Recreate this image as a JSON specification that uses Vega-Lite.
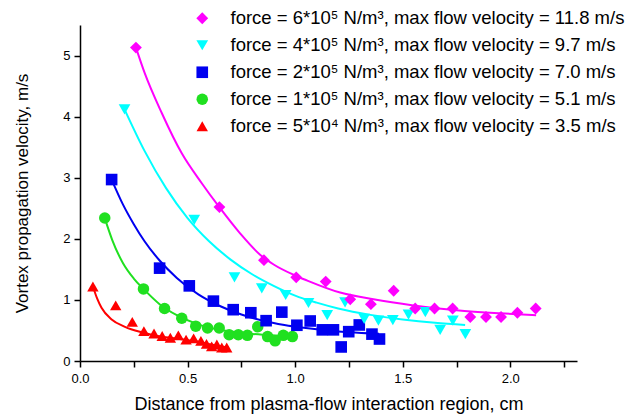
{
  "$schema": "https://vega.github.io/schema/vega-lite/v6.json",
  "width": 497,
  "height": 336,
  "autosize": {"type": "none"},
  "padding": {"left": 80, "top": 25, "right": 62, "bottom": 56},
  "background": "white",
  "config": {
    "view": {"stroke": null},
    "font": "Liberation Sans",
    "axis": {
      "grid": false,
      "domainColor": "black",
      "domainWidth": 1.5,
      "tickColor": "black",
      "tickWidth": 1.5,
      "tickSize": 6,
      "labelColor": "black",
      "labelFont": "Liberation Sans",
      "labelFontSize": 13,
      "labelOverlap": false,
      "labelFlush": false,
      "titleColor": "black",
      "titleFont": "Liberation Sans",
      "titleFontWeight": "normal",
      "titleFontSize": 18
    }
  },
  "datasets": {
    "fit": [
      {"g": "a", "x": 0.26, "y": 5.13}, {"g": "a", "x": 0.30, "y": 4.72}, {"g": "a", "x": 0.38, "y": 4.06},
      {"g": "a", "x": 0.473, "y": 3.40}, {"g": "a", "x": 0.566, "y": 2.91}, {"g": "a", "x": 0.645, "y": 2.53},
      {"g": "a", "x": 0.744, "y": 2.09}, {"g": "a", "x": 0.837, "y": 1.74}, {"g": "a", "x": 0.90, "y": 1.58},
      {"g": "a", "x": 1.00, "y": 1.40}, {"g": "a", "x": 1.054, "y": 1.32}, {"g": "a", "x": 1.209, "y": 1.12},
      {"g": "a", "x": 1.364, "y": 1.01}, {"g": "a", "x": 1.55, "y": 0.91}, {"g": "a", "x": 1.75, "y": 0.83},
      {"g": "a", "x": 1.953, "y": 0.78}, {"g": "a", "x": 2.12, "y": 0.75},
      {"g": "b", "x": 0.207, "y": 4.12}, {"g": "b", "x": 0.30, "y": 3.44}, {"g": "b", "x": 0.40, "y": 2.83},
      {"g": "b", "x": 0.50, "y": 2.34}, {"g": "b", "x": 0.60, "y": 1.96}, {"g": "b", "x": 0.70, "y": 1.66},
      {"g": "b", "x": 0.80, "y": 1.42}, {"g": "b", "x": 0.90, "y": 1.23}, {"g": "b", "x": 1.00, "y": 1.07},
      {"g": "b", "x": 1.10, "y": 0.955}, {"g": "b", "x": 1.20, "y": 0.86}, {"g": "b", "x": 1.35, "y": 0.755},
      {"g": "b", "x": 1.50, "y": 0.68}, {"g": "b", "x": 1.65, "y": 0.625}, {"g": "b", "x": 1.79, "y": 0.59},
      {"g": "c", "x": 0.147, "y": 2.97}, {"g": "c", "x": 0.20, "y": 2.56}, {"g": "c", "x": 0.25, "y": 2.24},
      {"g": "c", "x": 0.30, "y": 1.96}, {"g": "c", "x": 0.37, "y": 1.645}, {"g": "c", "x": 0.45, "y": 1.36},
      {"g": "c", "x": 0.55, "y": 1.09}, {"g": "c", "x": 0.65, "y": 0.90}, {"g": "c", "x": 0.75, "y": 0.76},
      {"g": "c", "x": 0.85, "y": 0.66}, {"g": "c", "x": 0.95, "y": 0.59}, {"g": "c", "x": 1.05, "y": 0.54},
      {"g": "c", "x": 1.15, "y": 0.50}, {"g": "c", "x": 1.25, "y": 0.47}, {"g": "c", "x": 1.39, "y": 0.445},
      {"g": "d", "x": 0.115, "y": 2.34}, {"g": "d", "x": 0.15, "y": 1.98}, {"g": "d", "x": 0.20, "y": 1.60},
      {"g": "d", "x": 0.25, "y": 1.35}, {"g": "d", "x": 0.295, "y": 1.18}, {"g": "d", "x": 0.37, "y": 0.93},
      {"g": "d", "x": 0.45, "y": 0.75}, {"g": "d", "x": 0.55, "y": 0.60}, {"g": "d", "x": 0.65, "y": 0.51},
      {"g": "d", "x": 0.75, "y": 0.46}, {"g": "d", "x": 0.85, "y": 0.43}, {"g": "d", "x": 0.99, "y": 0.41},
      {"g": "e", "x": 0.06, "y": 1.22}, {"g": "e", "x": 0.08, "y": 1.02}, {"g": "e", "x": 0.10, "y": 0.87},
      {"g": "e", "x": 0.147, "y": 0.68}, {"g": "e", "x": 0.209, "y": 0.56}, {"g": "e", "x": 0.287, "y": 0.47},
      {"g": "e", "x": 0.36, "y": 0.41}, {"g": "e", "x": 0.442, "y": 0.37}, {"g": "e", "x": 0.52, "y": 0.33},
      {"g": "e", "x": 0.597, "y": 0.28}, {"g": "e", "x": 0.69, "y": 0.22}
    ],
    "pts": [
      {"s": "E", "x": 0.06, "y": 1.22}, {"s": "E", "x": 0.166, "y": 0.91}, {"s": "E", "x": 0.243, "y": 0.64},
      {"s": "E", "x": 0.297, "y": 0.49}, {"s": "E", "x": 0.344, "y": 0.45}, {"s": "E", "x": 0.382, "y": 0.41},
      {"s": "E", "x": 0.42, "y": 0.38}, {"s": "E", "x": 0.457, "y": 0.42}, {"s": "E", "x": 0.493, "y": 0.35},
      {"s": "E", "x": 0.528, "y": 0.37}, {"s": "E", "x": 0.562, "y": 0.33}, {"s": "E", "x": 0.588, "y": 0.28},
      {"s": "E", "x": 0.612, "y": 0.24}, {"s": "E", "x": 0.636, "y": 0.27}, {"s": "E", "x": 0.659, "y": 0.22},
      {"s": "E", "x": 0.682, "y": 0.22},
      {"s": "D", "x": 0.115, "y": 2.34}, {"s": "D", "x": 0.295, "y": 1.18}, {"s": "D", "x": 0.393, "y": 0.86},
      {"s": "D", "x": 0.473, "y": 0.70}, {"s": "D", "x": 0.538, "y": 0.57}, {"s": "D", "x": 0.593, "y": 0.54},
      {"s": "D", "x": 0.647, "y": 0.54}, {"s": "D", "x": 0.693, "y": 0.43}, {"s": "D", "x": 0.736, "y": 0.43},
      {"s": "D", "x": 0.778, "y": 0.42}, {"s": "D", "x": 0.826, "y": 0.56}, {"s": "D", "x": 0.872, "y": 0.40},
      {"s": "D", "x": 0.907, "y": 0.33}, {"s": "D", "x": 0.945, "y": 0.42}, {"s": "D", "x": 0.987, "y": 0.40},
      {"s": "C", "x": 0.147, "y": 2.97}, {"s": "C", "x": 0.37, "y": 1.52}, {"s": "C", "x": 0.508, "y": 1.23},
      {"s": "C", "x": 0.62, "y": 0.98}, {"s": "C", "x": 0.712, "y": 0.84}, {"s": "C", "x": 0.794, "y": 0.79},
      {"s": "C", "x": 0.865, "y": 0.66}, {"s": "C", "x": 0.938, "y": 0.80}, {"s": "C", "x": 1.008, "y": 0.585},
      {"s": "C", "x": 1.07, "y": 0.655}, {"s": "C", "x": 1.126, "y": 0.51}, {"s": "C", "x": 1.178, "y": 0.51},
      {"s": "C", "x": 1.214, "y": 0.23}, {"s": "C", "x": 1.249, "y": 0.48}, {"s": "C", "x": 1.298, "y": 0.59},
      {"s": "C", "x": 1.357, "y": 0.44}, {"s": "C", "x": 1.392, "y": 0.36},
      {"s": "B", "x": 0.207, "y": 4.12}, {"s": "B", "x": 0.531, "y": 2.31}, {"s": "B", "x": 0.718, "y": 1.37},
      {"s": "B", "x": 0.845, "y": 1.19}, {"s": "B", "x": 0.956, "y": 1.08}, {"s": "B", "x": 1.062, "y": 0.95},
      {"s": "B", "x": 1.149, "y": 0.75}, {"s": "B", "x": 1.232, "y": 0.96}, {"s": "B", "x": 1.321, "y": 0.69},
      {"s": "B", "x": 1.387, "y": 0.66}, {"s": "B", "x": 1.454, "y": 0.67}, {"s": "B", "x": 1.527, "y": 0.76},
      {"s": "B", "x": 1.605, "y": 0.80}, {"s": "B", "x": 1.674, "y": 0.51}, {"s": "B", "x": 1.733, "y": 0.66},
      {"s": "B", "x": 1.791, "y": 0.44},
      {"s": "A", "x": 0.26, "y": 5.13}, {"s": "A", "x": 0.648, "y": 2.52}, {"s": "A", "x": 0.855, "y": 1.65},
      {"s": "A", "x": 1.005, "y": 1.37}, {"s": "A", "x": 1.142, "y": 1.30}, {"s": "A", "x": 1.256, "y": 1.01},
      {"s": "A", "x": 1.352, "y": 0.93}, {"s": "A", "x": 1.458, "y": 1.15}, {"s": "A", "x": 1.558, "y": 0.86},
      {"s": "A", "x": 1.648, "y": 0.86}, {"s": "A", "x": 1.732, "y": 0.86}, {"s": "A", "x": 1.814, "y": 0.72},
      {"s": "A", "x": 1.887, "y": 0.72}, {"s": "A", "x": 1.957, "y": 0.72}, {"s": "A", "x": 2.033, "y": 0.79},
      {"s": "A", "x": 2.118, "y": 0.86}
    ]
  },
  "layer": [
    {
      "data": {"name": "fit"},
      "mark": {"type": "line", "interpolate": "monotone", "strokeWidth": 2},
      "encoding": {
        "x": {"field": "x", "type": "quantitative", "scale": {"domain": [0, 2.31], "nice": false, "zero": false},
          "axis": {"title": "Distance from plasma-flow interaction region, cm",
            "values": [0, 0.25, 0.5, 0.75, 1, 1.25, 1.5, 1.75, 2, 2.25],
            "labelExpr": "datum.value % 0.5 == 0 ? format(datum.value, '.1f') : ''",
            "labelPadding": 5, "titlePadding": 10}},
        "y": {"field": "y", "type": "quantitative", "scale": {"domain": [0, 5.5], "nice": false, "zero": false},
          "axis": {"title": "Vortex propagation velocity, m/s",
            "values": [0, 0.5, 1, 1.5, 2, 2.5, 3, 3.5, 4, 4.5, 5],
            "labelExpr": "datum.value % 1 == 0 ? format(datum.value, 'd') : ''",
            "labelPadding": 4, "titlePadding": 31, "titleFontSize": 17}},
        "stroke": {"field": "g", "type": "nominal", "legend": null,
          "scale": {"domain": ["a", "b", "c", "d", "e"], "range": ["#FF00FF", "#00FFFF", "#0000F0", "#20E020", "#FF0000"]}}
      }
    },
    {
      "data": {"name": "pts"},
      "mark": {"type": "point", "filled": true, "opacity": 1},
      "encoding": {
        "x": {"field": "x", "type": "quantitative"},
        "y": {"field": "y", "type": "quantitative"},
        "color": {"field": "s", "type": "nominal",
          "scale": {"domain": ["A", "B", "C", "D", "E"], "range": ["#FF00FF", "#00FFFF", "#0000F0", "#20E020", "#FF0000"]},
          "legend": {"title": null, "orient": "none", "legendX": 113, "legendY": -16, "padding": 0,
            "labelFontSize": 18.5, "labelFont": "Liberation Sans", "labelColor": "black", "labelOffset": 19,
            "rowPadding": 8, "labelLimit": 600,
            "labelExpr": "{'A':'force = 6*10\u2075 N/m\u00b3, max flow velocity = 11.8 m/s','B':'force = 4*10\u2075 N/m\u00b3, max flow velocity = 9.7 m/s','C':'force = 2*10\u2075 N/m\u00b3, max flow velocity = 7.0 m/s','D':'force = 1*10\u2075 N/m\u00b3, max flow velocity = 5.1 m/s','E':'force = 5*10\u2074 N/m\u00b3, max flow velocity = 3.5 m/s'}[datum.value]"}},
        "shape": {"field": "s", "type": "nominal",
          "scale": {"domain": ["A", "B", "C", "D", "E"], "range": ["diamond", "triangle-down", "square", "circle", "triangle-up"]}},
        "size": {"field": "s", "type": "nominal",
          "scale": {"domain": ["A", "B", "C", "D", "E"], "range": [140, 130, 80, 64, 95]}}
      }
    }
  ]
}
